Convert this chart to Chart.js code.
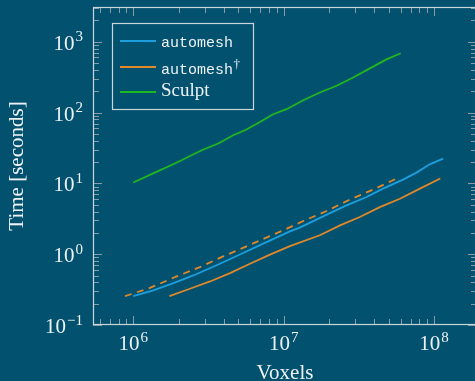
<!DOCTYPE html>
<html>
<head>
<meta charset="utf-8">
<script src="https://cdn.jsdelivr.net/npm/chart.js@4/dist/chart.umd.min.js"></script>
<style>
  html, body { margin: 0; padding: 0; background: #02516f; overflow: hidden; }
  #wrap { width: 480px; height: 381px; }
</style>
</head>
<body>
<div id="wrap"><canvas id="c" width="480" height="381"></canvas></div>
<script>
// ---- Data ----
const automeshVoxels = [1.0e6, 1.36e6, 1.85e6, 2.51e6, 3.77e6, 5.38e6, 7.31e6, 1.10e7, 1.28e7, 2.03e7, 2.62e7, 3.56e7, 4.58e7, 6.22e7, 7.64e7, 9.36e7, 1.15e8];
const automeshTime   = [0.255, 0.308, 0.390, 0.501, 0.734, 1.04, 1.41, 2.10, 2.37, 3.81, 4.90, 6.43, 8.44, 11.3, 14.2, 18.6, 22.4];

const daggerVoxels = [1.74e6, 2.38e6, 3.24e6, 4.40e6, 5.97e6, 8.11e6, 1.10e7, 1.74e7, 2.37e7, 3.21e7, 4.36e7, 5.93e7, 8.05e7, 1.10e8];
const daggerTime   = [0.255, 0.325, 0.412, 0.541, 0.734, 0.984, 1.30, 1.85, 2.55, 3.35, 4.63, 6.07, 8.44, 11.7];

const dashedVoxels = [8.81e5, 1.29e6, 1.94e6, 2.77e6, 3.96e6, 5.66e6, 8.09e6, 9.93e6, 1.35e7, 1.93e7, 2.75e7, 3.94e7, 5.62e7];
const dashedTime   = [0.255, 0.334, 0.485, 0.656, 0.931, 1.29, 1.80, 2.17, 2.94, 4.07, 5.90, 8.17, 11.7];

const sculptVoxels = [1.0e6, 1.50e6, 1.89e6, 2.85e6, 3.67e6, 4.62e6, 5.66e6, 6.95e6, 8.52e6, 1.045e7, 1.35e7, 1.74e7, 2.25e7, 2.90e7, 3.74e7, 4.83e7, 6.0e7];
const sculptTime   = [10.3, 15.3, 19.1, 29.4, 36.6, 47.9, 57.7, 73.8, 94.9, 111.7, 149.6, 192, 239, 313, 421, 564, 690];

const xRange = [5.4e5, 1.93e8];
const yRange = [0.1, 3100];
const xMajorExponents = [6, 7, 8];
const yMajorExponents = [-1, 0, 1, 2, 3];
const xTitle = 'Voxels';
const yTitle = 'Time [seconds]';
const legendLabels = ['automesh', 'automesh', 'Sculpt'];

// ---- Styling ----
const BG = '#02516f';
const BLUE = '#1c9fdd';
const ORANGE = '#e0882a';
const GREEN = '#1db81d';
const FRAME = '#cdd5dc';
const TICK = '#8a9aa7';
const TEXT = '#eef2f5';
const SERIF = '"Liberation Serif", "DejaVu Serif", serif';
const MONO = '"Liberation Mono", "DejaVu Sans Mono", monospace';

const pts = (xs, ys) => xs.map((x, i) => ({ x, y: ys[i] }));

const decor = {
  id: 'decor',
  beforeDraw(chart) {
    const ctx = chart.ctx;
    ctx.save();
    ctx.fillStyle = BG;
    ctx.fillRect(0, 0, chart.width, chart.height);
    ctx.restore();
  },
  afterDraw(chart) {
    const ctx = chart.ctx;
    const xs = chart.scales.x, ys = chart.scales.y;
    const { left, right, top, bottom } = chart.chartArea;
    ctx.save();

    // ticks
    function ticksFor(min, max) {
      const out = [];
      for (let e = Math.floor(Math.log10(min)); e <= Math.ceil(Math.log10(max)); e++) {
        for (let k = 1; k < 10; k++) {
          const v = k * Math.pow(10, e);
          if (v >= min * 0.999 && v <= max * 1.001) out.push({ v, major: k === 1 });
        }
      }
      return out;
    }
    ctx.strokeStyle = TICK;
    ctx.lineWidth = 1;
    ticksFor(xs.min, xs.max).forEach(t => {
      const px = Math.round(xs.getPixelForValue(t.v)) + 0.5;
      const len = t.major ? 9 : 6;
      ctx.beginPath();
      ctx.moveTo(px, bottom); ctx.lineTo(px, bottom - len);
      ctx.moveTo(px, top); ctx.lineTo(px, top + len);
      ctx.stroke();
    });
    ticksFor(ys.min, ys.max).forEach(t => {
      const py = Math.round(ys.getPixelForValue(t.v)) + 0.5;
      const len = t.major ? 9 : 6;
      ctx.beginPath();
      ctx.moveTo(left, py); ctx.lineTo(left + len, py);
      ctx.moveTo(right, py); ctx.lineTo(right - len, py);
      ctx.stroke();
    });

    // frame
    ctx.strokeStyle = FRAME;
    ctx.lineWidth = 1.2;
    ctx.strokeRect(left + 0.5, top + 0.5, right - left - 1, bottom - top - 1);

    // tick labels
    const baseFont = '21px ' + SERIF;
    const expFont = '15px ' + SERIF;
    const expText = e => (e < 0 ? '\u2212' + Math.abs(e) : String(e));
    ctx.fillStyle = TEXT;
    ctx.textBaseline = 'alphabetic';
    ctx.textAlign = 'left';
    xMajorExponents.forEach(e => {
      const px = xs.getPixelForValue(Math.pow(10, e));
      ctx.font = baseFont; const w10 = ctx.measureText('10').width;
      ctx.font = expFont; const we = ctx.measureText(expText(e)).width;
      const x0 = px - (w10 + 1 + we) / 2;
      ctx.font = baseFont; ctx.fillText('10', x0, bottom + 25);
      ctx.font = expFont; ctx.fillText(expText(e), x0 + w10 + 1, bottom + 17);
    });
    yMajorExponents.forEach(e => {
      const py = ys.getPixelForValue(Math.pow(10, e));
      ctx.font = baseFont; const w10 = ctx.measureText('10').width;
      ctx.font = expFont; const we = ctx.measureText(expText(e)).width;
      const xr = left - 10;
      const x0 = xr - we - 1 - w10;
      ctx.font = baseFont; ctx.fillText('10', x0, py + 8);
      ctx.font = expFont; ctx.fillText(expText(e), x0 + w10 + 1, py - 0.5);
    });

    // axis titles
    ctx.font = '21px ' + SERIF;
    ctx.textAlign = 'center';
    ctx.fillText(xTitle, (left + right) / 2, chart.height - 2);
    ctx.save();
    ctx.translate(17, (top + bottom) / 2);
    ctx.rotate(-Math.PI / 2);
    ctx.font = '21px ' + SERIF;
    ctx.textBaseline = 'middle';
    ctx.fillText(yTitle, 0, 0);
    ctx.restore();

    // legend
    const lx = left + 19, ly = top + 16, lw = 141, lh = 86;
    ctx.strokeStyle = FRAME;
    ctx.lineWidth = 1.2;
    ctx.strokeRect(lx + 0.5, ly + 0.5, lw, lh);
    const rows = [
      { color: BLUE, label: legendLabels[0], font: '15px ' + MONO, lineY: 18, baseY: 24, dagger: false },
      { color: ORANGE, label: legendLabels[1], font: '15px ' + MONO, lineY: 44, baseY: 51, dagger: true },
      { color: GREEN, label: legendLabels[2], font: '19px ' + SERIF, lineY: 69, baseY: 73, dagger: false }
    ];
    ctx.textAlign = 'left';
    ctx.textBaseline = 'alphabetic';
    rows.forEach(r => {
      ctx.strokeStyle = r.color;
      ctx.lineWidth = 1.8;
      ctx.beginPath();
      ctx.moveTo(lx + 8, ly + r.lineY);
      ctx.lineTo(lx + 44, ly + r.lineY);
      ctx.stroke();
      ctx.fillStyle = TEXT;
      ctx.font = r.font;
      ctx.fillText(r.label, lx + 49, ly + r.baseY);
      if (r.dagger) {
        const w = ctx.measureText(r.label).width;
        ctx.font = '13px ' + SERIF;
        ctx.fillText('\u2020', lx + 49 + w + 0.5, ly + r.baseY - 6);
      }
    });
    ctx.restore();
  }
};

new Chart(document.getElementById('c'), {
  type: 'line',
  data: {
    datasets: [
      { label: 'automesh', data: pts(automeshVoxels, automeshTime), borderColor: BLUE, borderWidth: 1.8 },
      { label: 'automesh\u2020', data: pts(daggerVoxels, daggerTime), borderColor: ORANGE, borderWidth: 1.8 },
      { label: 'automesh (dashed)', data: pts(dashedVoxels, dashedTime), borderColor: ORANGE, borderWidth: 1.8, borderDash: [7, 5.5] },
      { label: 'Sculpt', data: pts(sculptVoxels, sculptTime), borderColor: GREEN, borderWidth: 1.8 }
    ]
  },
  options: {
    responsive: false,
    animation: false,
    devicePixelRatio: 1,
    elements: { point: { radius: 0 }, line: { tension: 0, fill: false } },
    layout: { padding: { top: 7, right: 3, left: 0, bottom: 0 } },
    plugins: { legend: { display: false }, tooltip: { enabled: false } },
    scales: {
      x: {
        type: 'logarithmic', min: xRange[0], max: xRange[1],
        ticks: { display: false }, grid: { display: false }, border: { display: false },
        afterFit(s) { s.height = 56; }
      },
      y: {
        type: 'logarithmic', min: yRange[0], max: yRange[1],
        ticks: { display: false }, grid: { display: false }, border: { display: false },
        afterFit(s) { s.width = 93; }
      }
    }
  },
  plugins: [decor]
});
</script>
</body>
</html>
